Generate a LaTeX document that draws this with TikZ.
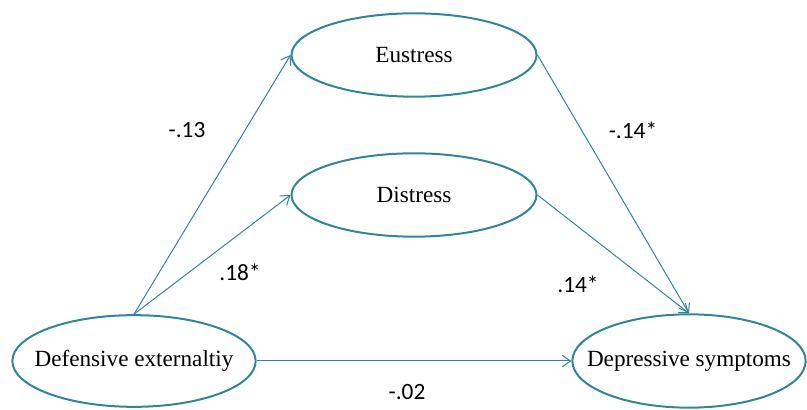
\documentclass[tikz,border=0pt]{standalone}
\usepackage{fontspec}
\setmainfont{Liberation Serif}
\newfontfamily\lblfont{Carlito}
\usetikzlibrary{shapes,arrows.meta,positioning}
\definecolor{pathteal}{RGB}{49,133,155}

\begin{document}
\begin{tikzpicture}[
    x=0.6pt, y=-0.6pt,
    var/.style={draw=pathteal, line width=1.2pt, ellipse,
                inner xsep=-40pt, inner ysep=-12pt,
                minimum width=147pt, minimum height=50pt,
                font=\fontsize{13.9}{16}\selectfont},
    arr/.style={-{Straight Barb[length=5pt,width=7pt]}, draw=pathteal, line width=0.6pt},
    coef/.style={font=\lblfont\fontsize{14}{16}\selectfont}
]
    \useasboundingbox (0,0) rectangle (807,410);

    % Variables
    \node[var] (eustress) at (414,55) {Eustress};
    \node[var] (distress) at (414,195) {Distress};
    \node[var, minimum width=146pt, minimum height=55pt] (defext) at (134,361) {Defensive externaltiy};
    \node[var, minimum width=140pt, minimum height=56pt] (depsym) at (689,361) {Depressive symptoms};

    % Paths
    \draw[arr] (defext.north) -- (eustress.west);
    \draw[arr] (defext.north) -- (distress.west);
    \draw[arr] (eustress.east) -- (depsym.north);
    \draw[arr] (distress.east) -- (depsym.north);
    \draw[arr] (defext.east) -- (depsym.west);

    % Coefficients
    \node[coef] (c13) at (187,130) {-.13};
    \node[coef] (c18) at (240,272) {.18*};
    \node[coef] (c14a) at (633,130) {-.14*};
    \node[coef] (c14b) at (578,284) {.14*};
    \node[coef] (c02) at (407,392) {-.02};
\end{tikzpicture}
\end{document}
